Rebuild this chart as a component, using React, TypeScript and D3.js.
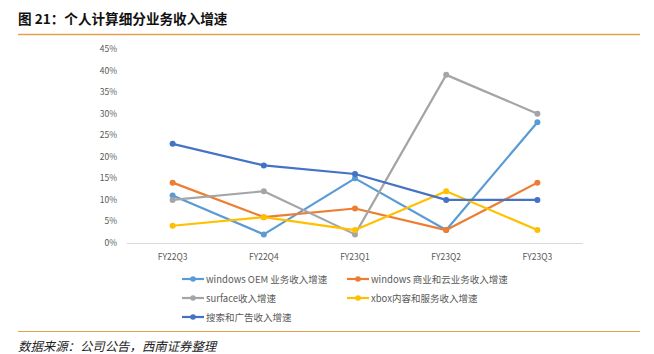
import { useEffect, useRef } from 'react';
import * as d3 from 'd3';

// categories and series (percent growth)
const quarters = ['FY22Q3', 'FY22Q4', 'FY23Q1', 'FY23Q2', 'FY23Q3'];
const oemValues = [11, 2, 15, 3, 28];
const commercialValues = [14, 6, 8, 3, 14];
const surfaceValues = [10, 12, 2, 39, 30];
const xboxValues = [4, 6, 3, 12, 3];
const searchValues = [23, 18, 16, 10, 10];
const yTicks = [0, 5, 10, 15, 20, 25, 30, 35, 40, 45];

const seriesNames = [
  'windows OEM 业务收入增速',
  'windows 商业和云业务收入增速',
  'surface收入增速',
  'xbox内容和服务收入增速',
  '搜索和广告收入增速',
];
const seriesColors = ['#5B9BD5', '#ED7D31', '#A5A5A5', '#FFC000', '#4472C4'];

const App = () => {
  const svgRef = useRef<SVGSVGElement>(null);

  useEffect(() => {
    const svg = d3.select(svgRef.current);
    svg.selectAll('*').remove();

    const font = '"Noto Sans CJK SC", "Open Sans", sans-serif';
    const allSeries = [oemValues, commercialValues, surfaceValues, xboxValues, searchValues];

    const x = d3.scaleBand().domain(quarters).range([127, 583]);
    const y = d3.scaleLinear().domain([0, 45]).range([243, 49]);

    // title
    svg.append('text')
      .attr('x', 18).attr('y', 24)
      .attr('font-family', font).attr('font-size', 13.6).attr('font-weight', 'bold')
      .attr('fill', '#111')
      .text('图 21：个人计算细分业务收入增速');
    svg.append('line')
      .attr('x1', 18).attr('x2', 640).attr('y1', 34.5).attr('y2', 34.5)
      .attr('stroke', '#E3A04F').attr('stroke-width', 1.5);

    // y tick labels
    svg.append('g').selectAll('text').data(yTicks).enter().append('text')
      .attr('x', 117).attr('y', d => y(d) + 3)
      .attr('text-anchor', 'end')
      .attr('font-family', font).attr('font-size', 8.5).attr('fill', '#595959')
      .text(d => d + '%');

    // baseline
    svg.append('line')
      .attr('x1', 127).attr('x2', 583).attr('y1', y(0) + 0.5).attr('y2', y(0) + 0.5)
      .attr('stroke', '#D9D9D9').attr('stroke-width', 1);

    // x labels
    svg.append('g').selectAll('text').data(quarters).enter().append('text')
      .attr('x', d => (x(d) as number) + x.bandwidth() / 2).attr('y', 260)
      .attr('text-anchor', 'middle')
      .attr('font-family', font).attr('font-size', 8.5).attr('fill', '#595959')
      .text(d => d);

    const line = d3.line<number>()
      .x((_, i) => (x(quarters[i]) as number) + x.bandwidth() / 2)
      .y(d => y(d));

    allSeries.forEach((vals, si) => {
      const g = svg.append('g');
      g.append('path')
        .attr('d', line(vals))
        .attr('fill', 'none')
        .attr('stroke', seriesColors[si])
        .attr('stroke-width', 2.2)
        .attr('stroke-linejoin', 'round');
      g.selectAll('circle').data(vals).enter().append('circle')
        .attr('cx', (_, i) => (x(quarters[i]) as number) + x.bandwidth() / 2)
        .attr('cy', d => y(d))
        .attr('r', 3)
        .attr('fill', seriesColors[si]);
    });

    // legend
    const legendPos = [[182, 279], [347, 279], [182, 298], [347, 298], [182, 317]];
    seriesNames.forEach((name, i) => {
      const [lx, ly] = legendPos[i];
      const g = svg.append('g');
      g.append('line')
        .attr('x1', lx).attr('x2', lx + 22).attr('y1', ly).attr('y2', ly)
        .attr('stroke', seriesColors[i]).attr('stroke-width', 2.2);
      g.append('circle').attr('cx', lx + 11).attr('cy', ly).attr('r', 2.8).attr('fill', seriesColors[i]);
      g.append('text')
        .attr('x', lx + 24).attr('y', ly + 3.5)
        .attr('font-family', font).attr('font-size', 9.5).attr('fill', '#595959')
        .text(name);
    });

    // footer
    svg.append('line')
      .attr('x1', 18).attr('x2', 640).attr('y1', 331.5).attr('y2', 331.5)
      .attr('stroke', '#E3A04F').attr('stroke-width', 1.2);
    svg.append('text')
      .attr('x', 18).attr('y', 351)
      .attr('font-family', font).attr('font-size', 12.4).attr('font-style', 'italic')
      .attr('fill', '#222')
      .text('数据来源：公司公告，西南证券整理');
  }, []);

  return (
    <svg ref={svgRef} width={654} height={354}
      style={{ position: 'absolute', left: 0, top: 0, background: '#fff' }} />
  );
};

export default App;
